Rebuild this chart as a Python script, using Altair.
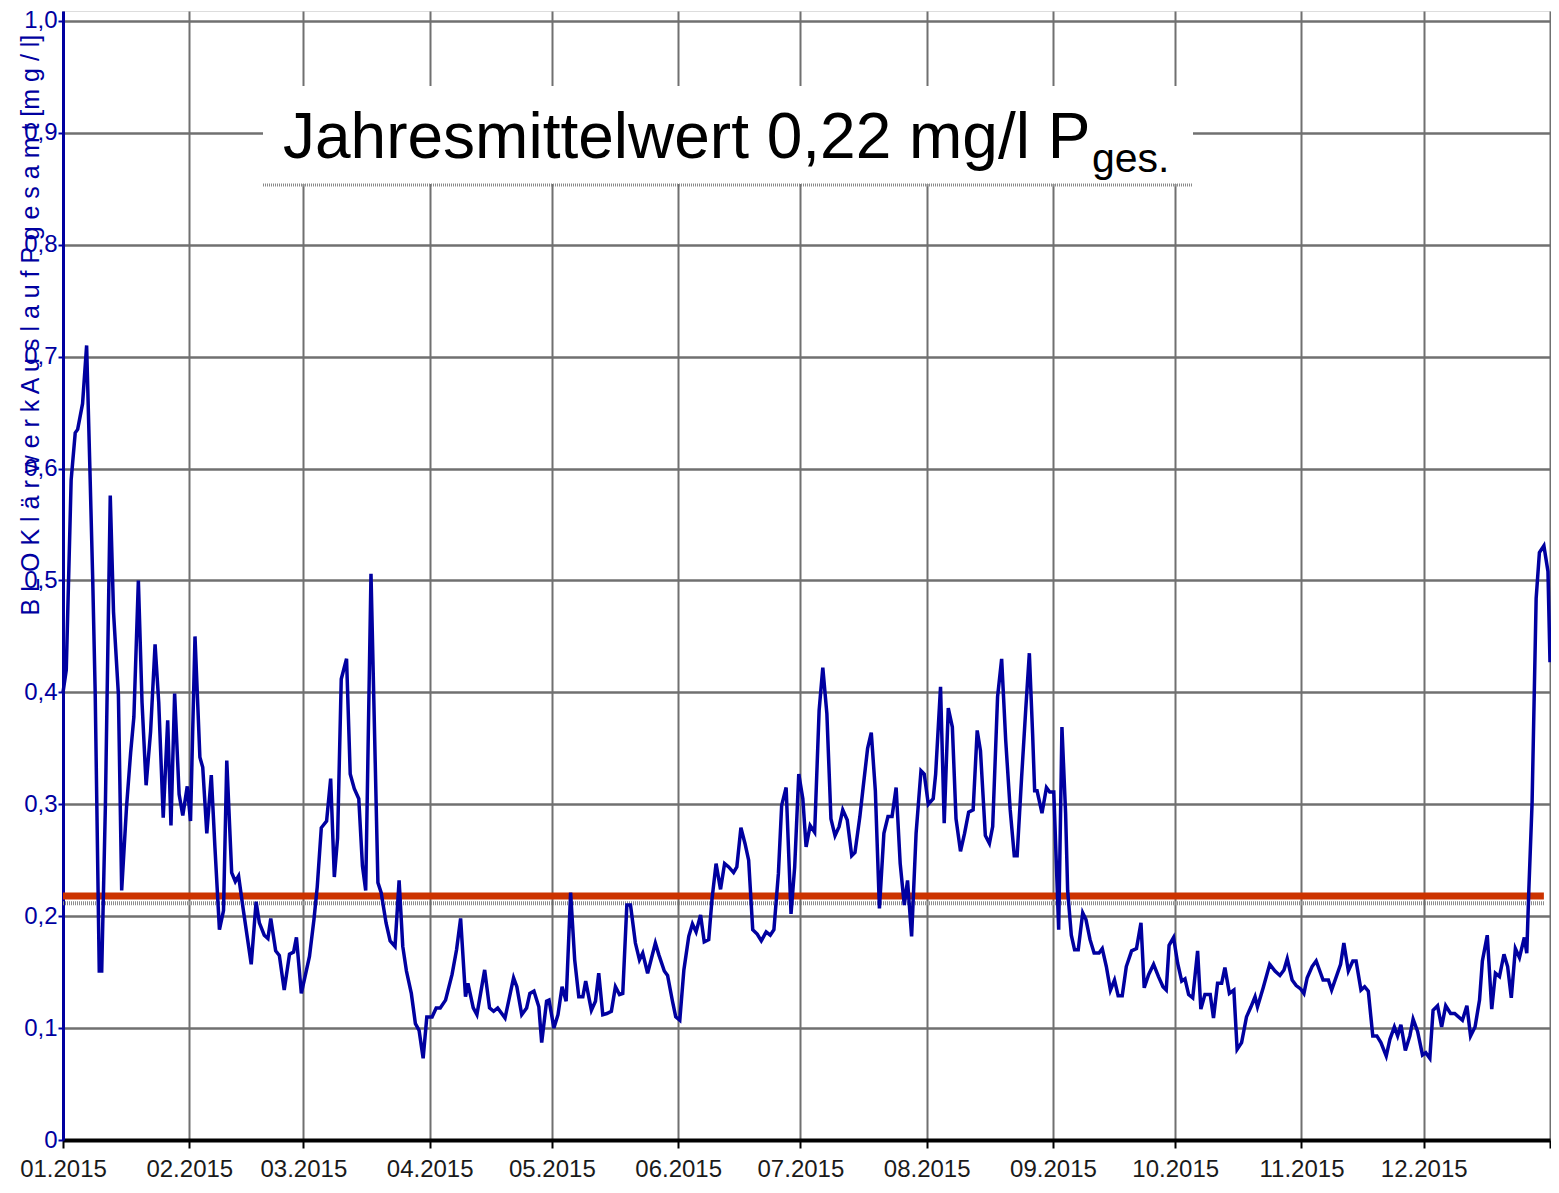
import altair as alt
import pandas as pd

# Day offsets from 01.01.2015 and measured values (mg/l)
days = [
    0.0, 0.8, 2.0, 3.0, 3.6, 4.8, 5.8, 6.6, 7.3, 7.9, 8.9, 9.5, 10.4, 11.6, 12.4, 13.6,
    14.4, 15.6, 16.6, 17.4, 18.5, 19.4, 20.4, 21.5, 22.6, 23.5, 24.6, 25.7, 26.5, 27.4,
    28.5, 29.4, 30.5, 31.3, 32.4, 33.6, 34.3, 35.3, 36.4, 37.3, 38.4, 39.4, 40.2, 41.4,
    42.3, 43.1, 44.2, 46.2, 47.4, 48.2, 49.4, 50.3, 51.0, 52.2, 53.1, 54.3, 55.6, 56.6,
    57.3, 58.5, 60.5, 61.6, 62.4, 63.4, 64.7, 65.7, 66.6, 67.4, 68.3, 69.6, 70.5, 71.5,
    72.6, 73.5, 74.3, 75.6, 77.3, 78.1, 79.3, 80.3, 81.5, 82.5, 83.4, 84.3, 85.5, 86.5,
    87.4, 88.4, 89.3, 90.6, 91.6, 92.6, 93.9, 95.5, 96.6, 97.6, 98.8, 99.4, 100.7, 101.6,
    103.5, 104.7, 105.7, 106.7, 108.5, 110.6, 111.4, 112.6, 113.8, 114.6, 115.6, 116.8,
    117.5, 118.7, 119.3, 120.5, 121.5, 122.5, 123.5, 124.6, 125.6, 126.6, 127.6, 128.3,
    129.7, 130.7, 131.5, 132.5, 133.5, 134.6, 135.6, 136.6, 137.4, 138.4, 139.3, 140.5,
    141.5, 142.3, 143.5, 145.4, 146.3, 147.6, 148.4, 149.6, 150.4, 151.4, 152.4, 153.6,
    154.5, 155.4, 156.5, 157.4, 158.5, 159.3, 160.3, 161.4, 162.4, 163.4, 164.6, 165.4,
    166.4, 167.4, 168.3, 169.3, 170.4, 171.4, 172.6, 173.6, 174.5, 175.6, 176.4, 177.5,
    178.7, 179.6, 180.6, 181.6, 182.4, 183.4, 184.5, 185.6, 186.5, 187.5, 188.5, 189.5,
    190.5, 191.4, 192.5, 193.6, 194.4, 195.6, 196.4, 197.5, 198.4, 199.4, 200.4, 201.5,
    202.5, 203.5, 204.5, 205.5, 206.5, 207.3, 208.3, 209.4, 210.6, 211.4, 212.4, 213.6,
    214.2, 215.4, 216.3, 217.3, 218.3, 219.2, 220.3, 221.3, 222.3, 223.4, 224.4, 225.2,
    226.4, 227.4, 228.2, 229.4, 230.4, 231.4, 232.5, 233.5, 234.2, 235.3, 236.3, 237.2,
    238.0, 238.5, 239.1, 240.3, 241.4, 242.2, 243.2, 244.4, 245.2, 246.1, 246.6, 247.5,
    248.3, 249.2, 250.3, 251.1, 252.1, 253.1, 254.3, 255.1, 256.1, 257.1, 258.1, 259.0,
    260.0, 261.0, 262.3, 263.5, 264.6, 265.4, 266.5, 267.7, 268.9, 270.0, 270.8, 271.5,
    272.6, 273.6, 274.6, 275.4, 276.3, 277.3, 278.5, 279.3, 280.3, 281.6, 282.4, 283.4,
    284.4, 285.2, 286.3, 287.4, 288.2, 289.3, 290.5, 291.6, 292.6, 293.2, 294.6, 296.2,
    297.5, 298.7, 299.7, 300.5, 301.7, 302.7, 303.8, 304.6, 305.4, 306.6, 307.6, 309.3,
    310.6, 311.4, 313.6, 314.4, 315.5, 316.6, 317.4, 318.6, 319.5, 320.4, 321.5, 322.5,
    323.5, 324.8, 325.7, 326.8, 327.6, 328.4, 329.5, 330.6, 331.4, 332.5, 333.7, 334.5,
    335.5, 336.3, 337.4, 338.4, 339.4, 340.6, 341.6, 343.5, 344.6, 345.5, 346.6, 347.7,
    348.4, 349.6, 350.7, 351.6, 352.6, 353.7, 354.6, 355.5, 356.5, 357.5, 358.7, 359.3,
    359.8, 360.6, 361.6, 362.4, 363.5, 364.5, 365.0,
]
values = [
    0.400, 0.420, 0.590, 0.632, 0.635, 0.658, 0.710, 0.600, 0.500, 0.400, 0.151, 0.151, 0.298, 0.576, 0.472, 0.398,
    0.223, 0.298, 0.346, 0.378, 0.500, 0.391, 0.317, 0.365, 0.443, 0.391, 0.288, 0.375, 0.281, 0.399,
    0.309, 0.290, 0.316, 0.285, 0.450, 0.342, 0.333, 0.274, 0.326, 0.261, 0.188, 0.205, 0.339, 0.239,
    0.231, 0.236, 0.207, 0.157, 0.213, 0.194, 0.183, 0.180, 0.198, 0.169, 0.165, 0.134, 0.166, 0.168,
    0.181, 0.131, 0.164, 0.197, 0.226, 0.279, 0.285, 0.323, 0.235, 0.270, 0.412, 0.430, 0.327, 0.314,
    0.305, 0.245, 0.223, 0.506, 0.230, 0.221, 0.194, 0.178, 0.173, 0.232, 0.173, 0.151, 0.131, 0.104,
    0.098, 0.073, 0.110, 0.110, 0.118, 0.118, 0.125, 0.148, 0.170, 0.198, 0.128, 0.140, 0.118, 0.112,
    0.152, 0.118, 0.115, 0.118, 0.109, 0.145, 0.137, 0.112, 0.118, 0.131, 0.133, 0.119,
    0.087, 0.124, 0.125, 0.100, 0.112, 0.137, 0.124, 0.221, 0.161, 0.128, 0.128, 0.142,
    0.116, 0.124, 0.149, 0.112, 0.113, 0.115, 0.137, 0.130, 0.131, 0.210, 0.210, 0.176,
    0.161, 0.167, 0.149, 0.176, 0.165, 0.151, 0.147, 0.124, 0.110, 0.107, 0.152, 0.182,
    0.193, 0.186, 0.201, 0.177, 0.179, 0.215, 0.247, 0.224, 0.247, 0.244, 0.239, 0.244,
    0.279, 0.265, 0.250, 0.188, 0.184, 0.178, 0.186, 0.183, 0.188, 0.238, 0.299, 0.315,
    0.202, 0.244, 0.327, 0.305, 0.262, 0.281, 0.275, 0.384, 0.422, 0.381, 0.287, 0.272,
    0.280, 0.295, 0.286, 0.254, 0.257, 0.289, 0.315, 0.350, 0.364, 0.312, 0.207, 0.274,
    0.289, 0.289, 0.315, 0.247, 0.210, 0.232, 0.182, 0.274, 0.330, 0.327, 0.300, 0.305,
    0.327, 0.405, 0.283, 0.386, 0.369, 0.287, 0.258, 0.274, 0.293, 0.295, 0.366, 0.348,
    0.272, 0.265, 0.280, 0.396, 0.430, 0.357, 0.295, 0.254, 0.254, 0.324, 0.384, 0.435,
    0.363, 0.312, 0.312, 0.292, 0.315, 0.311, 0.311, 0.188, 0.369, 0.292, 0.223, 0.183,
    0.170, 0.170, 0.203, 0.197, 0.179, 0.167, 0.167, 0.171, 0.155, 0.134, 0.143, 0.129,
    0.129, 0.155, 0.169, 0.171, 0.194, 0.136, 0.148, 0.157, 0.146, 0.137, 0.134, 0.174,
    0.181, 0.158, 0.142, 0.144, 0.130, 0.127, 0.169, 0.117, 0.130, 0.130, 0.109, 0.140,
    0.140, 0.154, 0.131, 0.134, 0.081, 0.087, 0.110, 0.119, 0.128, 0.119, 0.136, 0.157,
    0.151, 0.147, 0.152, 0.162, 0.143, 0.138, 0.135, 0.131, 0.145, 0.155, 0.160, 0.143,
    0.143, 0.134, 0.157, 0.176, 0.151, 0.160, 0.160, 0.134, 0.137, 0.133, 0.093, 0.093,
    0.087, 0.075, 0.090, 0.101, 0.093, 0.103, 0.080, 0.093, 0.108, 0.097, 0.076, 0.078,
    0.073, 0.116, 0.120, 0.101, 0.120, 0.113, 0.113, 0.107, 0.120, 0.093, 0.101, 0.125,
    0.160, 0.183, 0.117, 0.149, 0.146, 0.166, 0.155, 0.127, 0.171, 0.163, 0.181, 0.167,
    0.223, 0.301, 0.484, 0.525, 0.531, 0.508, 0.427,
]

mean_value = 0.218          # red annual-mean line
mean_end_day = 363.5
month_ticks = list(range(1, 13))
y_ticks = [0, 0.1, 0.2, 0.3, 0.4, 0.5, 0.6, 0.7, 0.8, 0.9, 1.0]

start = pd.Timestamp("2015-01-01")
def to_iso(d):
    return (start + pd.to_timedelta(d, unit="D")).strftime("%Y-%m-%dT%H:%M:%S")

df = pd.DataFrame({"date": [to_iso(d) for d in days], "value": values})
mean_df = pd.DataFrame({"start": [to_iso(0)], "end": [to_iso(mean_end_day)], "value": [mean_value]})
shadow_df = pd.DataFrame({"start": [to_iso(0)], "end": [to_iso(mean_end_day + 0.2)], "value": [mean_value - 0.0065]})
one = pd.DataFrame({"k": [0]})

SANS = "Liberation Sans, Arial, sans-serif"
BLUE = "#0000a0"
GRID = "#707070"

x_scale = alt.Scale(domain=[alt.DateTime(year=2015, month=1, date=1),
                            alt.DateTime(year=2016, month=1, date=1)])
y_scale = alt.Scale(domain=[0, 1.0089], nice=False, zero=True)

x_axis = alt.Axis(
    values=[alt.DateTime(year=2015, month=m, date=1) for m in month_ticks] + [alt.DateTime(year=2016, month=1, date=1)],
    format="%m.%Y", formatType="time", title=None,
    labelExpr="month(datum.value) == 0 && year(datum.value) == 2016 ? '' : datum.label",
    grid=True, gridColor=GRID, gridWidth=2,
    domainColor="#000000", domainWidth=4,
    tickColor="#000000", tickWidth=2, tickSize=8,
    labelFont=SANS, labelFontSize=24, labelColor="#1a1a1a", labelPadding=9,
    labelFlush=False, labelOverlap=False,
)
y_axis = alt.Axis(
    values=y_ticks,
    labelExpr="datum.value == 0 ? '0' : replace(format(datum.value, '.1f'), '.', ',')",
    grid=True, gridColor=GRID, gridWidth=2.5,
    domainColor=BLUE, domainWidth=3,
    tickColor=BLUE, tickWidth=2, tickSize=5,
    labelFont=SANS, labelFontSize=24, labelColor=BLUE, labelPadding=1,
    title="B L O  K l ä r w e r k  A u s l a u f  P g e s a m t  [m g / l]",
    titleFont=SANS, titleFontSize=25, titleFontWeight="normal", titleColor=BLUE,
    titleAngle=270, titleAlign="left", titleBaseline="alphabetic",
    titleX=-25, titleY=604,
)

line = alt.Chart(df).mark_line(color=BLUE, strokeWidth=3.5).encode(
    x=alt.X("date:T", scale=x_scale, axis=x_axis),
    y=alt.Y("value:Q", scale=y_scale, axis=y_axis),
)

shadow = alt.Chart(shadow_df).mark_rule(color="#8c8c8c", strokeWidth=4, strokeDash=[1, 1]).encode(
    x=alt.X("start:T", scale=x_scale), x2="end:T", y=alt.Y("value:Q", scale=y_scale)
)
mean_rule = alt.Chart(mean_df).mark_rule(color="#cc3300", strokeWidth=7).encode(
    x=alt.X("start:T", scale=x_scale), x2="end:T", y=alt.Y("value:Q", scale=y_scale)
)

box = alt.Chart(one).mark_rect(color="white").encode(
    x=alt.value(200), x2=alt.value(1130), y=alt.value(75), y2=alt.value(173)
)
box_line = alt.Chart(one).mark_rule(color="#8a8a8a", strokeWidth=3, strokeDash=[1, 1]).encode(
    x=alt.value(200), x2=alt.value(1130), y=alt.value(174)
)
title_main = alt.Chart(one).mark_text(
    text="Jahresmittelwert 0,22 mg/l P", font=SANS,
    fontSize=64, align="left", baseline="alphabetic", color="#000000"
).encode(x=alt.value(220), y=alt.value(147))
title_sub = alt.Chart(one).mark_text(
    text="ges.", font=SANS,
    fontSize=41, align="left", baseline="alphabetic", color="#000000"
).encode(x=alt.value(1029), y=alt.value(161))

chart = alt.layer(shadow, mean_rule, line, box, box_line, title_main, title_sub).properties(
    width=1487, height=1129,
    autosize=alt.AutoSizeParams(type="none"),
    padding={"left": 55, "top": 3, "right": 1, "bottom": 41},
).configure_view(stroke=GRID, strokeWidth=2).configure(background="white")

chart.save("out.html", embed_options={"renderer": "svg", "actions": False})
